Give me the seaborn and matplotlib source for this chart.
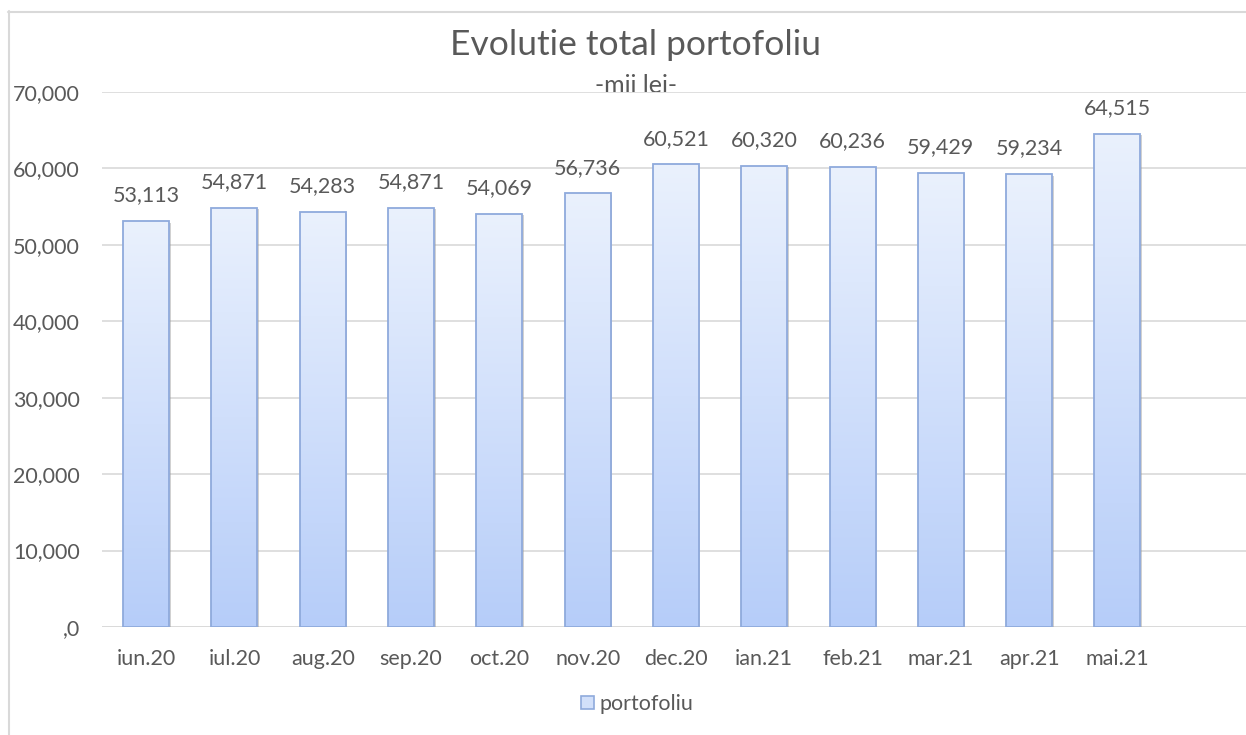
import numpy as np
import pandas as pd
import matplotlib
matplotlib.use("Agg")
import matplotlib.pyplot as plt
import seaborn as sns
from matplotlib.patches import Rectangle
from matplotlib.lines import Line2D
from matplotlib.colors import LinearSegmentedColormap
from matplotlib.transforms import offset_copy

# ---- data ----
months = ["iun.20", "iul.20", "aug.20", "sep.20", "oct.20", "nov.20",
          "dec.20", "ian.21", "feb.21", "mar.21", "apr.21", "mai.21"]
values = [53113, 54871, 54283, 54871, 54069, 56736,
          60521, 60320, 60236, 59429, 59234, 64515]
y_ticks = [0, 10000, 20000, 30000, 40000, 50000, 60000, 70000]
y_tick_labels = [",0", "10,000", "20,000", "30,000", "40,000", "50,000", "60,000", "70,000"]
title = "Evolutie total portofoliu"
subtitle = "-mii lei-"
series_name = "portofoliu"

# ---- style ----
sns.set_theme(style="white")
plt.rcParams["font.family"] = ["Lato", "DejaVu Sans"]
TXT = "#595959"
GRID = "#D9D9D9"
EDGE = "#8FAADC"
TOP = "#EAF1FD"
BOT = "#B6CDF9"

W, H = 1246, 735
fig = plt.figure(figsize=(W / 100, H / 100), dpi=100)
fig.patch.set_facecolor("white")

left, right, top, bottom = 102, 1246, 92, 627
ax = fig.add_axes([left / W, 1 - bottom / H, (right - left) / W, (bottom - top) / H])
ax.set_facecolor("white")

df = pd.DataFrame({"month": months, "value": values})
sns.barplot(data=df, x="month", y="value", ax=ax, width=0.52,
            color=BOT, edgecolor=EDGE, linewidth=1.3, saturation=1, zorder=3)

cat_w = 88.3
ax.set_xlim(-0.5, -0.5 + (right - left) / cat_w)
ax.set_ylim(0, 70000)

# gradient fill + shadow
cmap = LinearSegmentedColormap.from_list("g", [BOT, TOP])
grad = np.linspace(0, 1, 256).reshape(-1, 1)
shadow_tr = offset_copy(ax.transData, fig=fig, x=1.5, y=-1.5, units="dots")
for p in ax.patches:
    x0, y0 = p.get_x(), p.get_y()
    w, h = p.get_width(), p.get_height()
    sh = Rectangle((x0, y0), w, h, transform=shadow_tr, facecolor="#9a9a9a",
                   alpha=0.45, edgecolor="none", zorder=1.5)
    ax.add_patch(sh)
    im = ax.imshow(grad, extent=[x0, x0 + w, y0, y0 + h], origin="lower",
                   aspect="auto", cmap=cmap, zorder=2, interpolation="bilinear")
    im.set_clip_path(p)
    p.set_facecolor("none")
    p.set_zorder(3)
ax.set_xlim(-0.5, -0.5 + (right - left) / cat_w)
ax.set_ylim(0, 70000)

# data labels
for i, v in enumerate(values):
    ax.annotate(f"{v:,}", (i, v), xytext=(0, 14.2), textcoords="offset points",
                ha="center", va="baseline", fontsize=15.5, color=TXT, zorder=4)

# axes styling
ax.set_yticks(y_ticks)
ax.set_yticklabels(y_tick_labels)
ax.yaxis.grid(True, color=GRID, linewidth=1.2, zorder=0)
ax.set_axisbelow(True)
for s in ax.spines.values():
    s.set_visible(False)
ax.axhline(0, color=GRID, linewidth=1.2, zorder=1)
ax.tick_params(axis="both", length=0, labelsize=15.5, labelcolor=TXT)
ax.tick_params(axis="y", pad=16)
ax.tick_params(axis="x", pad=16)
ax.set_xlabel("")
ax.set_ylabel("")

# title & subtitle (subtitle under the plot area so it gets partly covered)
fig.text(636 / W, 1 - 55 / H, title, ha="center", va="baseline",
         fontsize=25.5, color=TXT)
fig.text(636 / W, 1 - 93 / H, subtitle, ha="center", va="baseline",
         fontsize=18, color=TXT, zorder=-1)

# legend
handle = Rectangle((0, 0), 1, 1, facecolor="#D2E0FA", edgecolor=EDGE, linewidth=1.2)
fig.legend([handle], [series_name], loc="center", bbox_to_anchor=(637 / W, 1 - 704 / H),
           frameon=False, fontsize=15.5, labelcolor=TXT, handlelength=0.6,
           handleheight=0.6, handletextpad=0.25, borderpad=0)

# chart area border (cropped on right and bottom)
fig.add_artist(Line2D([8.5 / W, 8.5 / W], [1 - 11 / H, 0], color=GRID, linewidth=1.5))
fig.add_artist(Line2D([8 / W, 1], [1 - 11.5 / H, 1 - 11.5 / H], color=GRID, linewidth=1.5))

fig.savefig("out.png", dpi=100, facecolor="white")
